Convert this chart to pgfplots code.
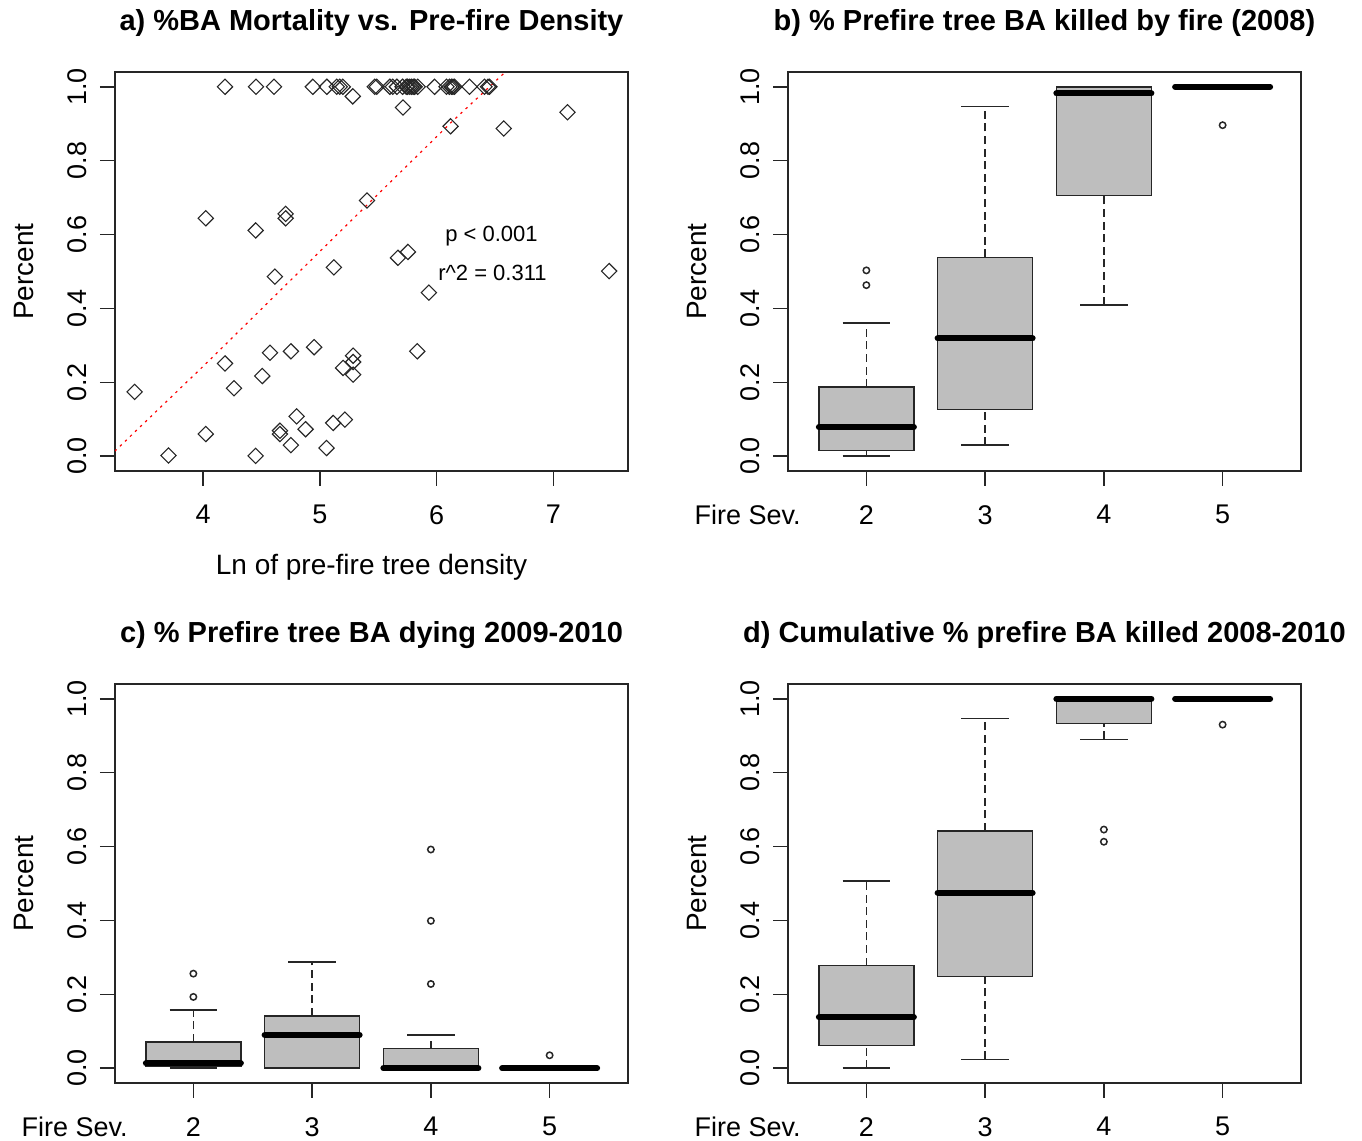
\documentclass[border=0pt]{standalone}
\usepackage{fontspec}
\setmainfont{Liberation Sans}
\usepackage{pgfplots}
\pgfplotsset{compat=1.18}
\usepgfplotslibrary{statistics}
\definecolor{boxgray}{RGB}{190,190,190}
\newcommand\tfont{\fontsize{13.5}{16}\selectfont}
\newcommand\lfont{\fontsize{14}{17}\selectfont}
\newcommand\hfont{\fontsize{14.5}{17}\selectfont\bfseries}
\newcommand\afont{\fontsize{11}{13}\selectfont}

\pgfplotsset{
  boxplot/draw/lower whisker/.code={%
    \draw[/pgfplots/boxplot/every whisker/.try, dash pattern=on 4pt off 2.3pt]
      (boxplot cs:\pgfplotsboxplotvalue{lower whisker}) -- (boxplot cs:\pgfplotsboxplotvalue{lower quartile});
    \draw[/pgfplots/boxplot/every whisker/.try, solid]
      (boxplot whisker cs:\pgfplotsboxplotvalue{lower whisker},0) -- (boxplot whisker cs:\pgfplotsboxplotvalue{lower whisker},1);
  },
  boxplot/draw/upper whisker/.code={%
    \draw[/pgfplots/boxplot/every whisker/.try, dash pattern=on 4pt off 2.3pt]
      (boxplot cs:\pgfplotsboxplotvalue{upper quartile}) -- (boxplot cs:\pgfplotsboxplotvalue{upper whisker});
    \draw[/pgfplots/boxplot/every whisker/.try, solid]
      (boxplot whisker cs:\pgfplotsboxplotvalue{upper whisker},0) -- (boxplot whisker cs:\pgfplotsboxplotvalue{upper whisker},1);
  },
  rbase/.style={
    scale only axis, width=256.5pt, height=199.5pt,
    anchor=south west,
    axis line style={line width=0.8pt, black!85},
    tick align=outside, tick pos=left,
    major tick length=7.5pt,
    tick style={line width=0.8pt, black!85},
    ymin=-0.04, ymax=1.04,
    ytick={0,0.2,0.4,0.6,0.8,1},
    yticklabels={0.0,0.2,0.4,0.6,0.8,1.0},
    yticklabel style={rotate=90, anchor=south, inner sep=0pt, font=\tfont},
    yticklabel shift=6.5pt,
    xticklabel style={anchor=north, inner sep=0pt, font=\tfont},
    xticklabel shift=9.5pt,
    ylabel={Percent},
    ylabel style={at={(axis description cs:-0.1774,0.5)}, anchor=center, font=\lfont},
    title style={at={(axis description cs:0.5,1.092)}, anchor=center, font=\hfont},
  },
  rbox/.style={rbase, xmin=0.34, xmax=4.66, xtick={1,2,3,4}, xticklabels={2,3,4,5}, clip=false},
  bp/.style={black, line width=0.8pt, mark=o, mark size=1.6pt,
    mark options={solid, black!85, line width=0.75pt},
    boxplot/every box/.style={draw=black!85, fill=boxgray, line width=0.8pt},
    boxplot/every whisker/.style={black!85, line width=0.8pt},
    boxplot/every median/.style={black, line width=3pt, line cap=round},
    boxplot prepared={draw direction=y, box extend=0.8, whisker extend=0.4, #1}},
}

\begin{document}
\begin{tikzpicture}
\useasboundingbox (0,0) rectangle (681pt,570.5pt);

% ---------------- a) scatter
\begin{axis}[rbase, at={(57.5pt,335pt)},
  xmin=3.245, xmax=7.64, xtick={4,5,6,7}, xticklabels={4,5,6,7},
  xlabel={Ln of pre-fire tree density},
  xlabel style={at={(axis description cs:0.5,-0.2406)}, anchor=center, font=\lfont},
  title={a) \%BA Mortality vs. Pre-fire Density}]
\addplot[red, line width=0.6pt, dash pattern=on 1.2pt off 2.3pt]
  coordinates {(3.20,0.001) (3.248,0.015) (4.045,0.257) (5.43,0.688) (6.12,0.902) (6.596,1.042) (6.7,1.074)};
\addplot[only marks, mark=square, mark size=2.7pt, mark options={rotate=45, black!85, line width=0.55pt}]
  coordinates {
  (4.188,1) (4.453,1) (4.607,1) (4.940,1) (5.060,1) (5.145,1) (5.171,1) (5.197,1)
  (5.282,0.974) (5.470,1) (5.487,1) (5.600,1) (5.624,1) (5.660,1) (5.709,1) (5.740,1)
  (5.752,1) (5.770,1) (5.786,1) (5.800,1) (5.812,1) (5.838,1) (5.983,1) (6.085,1)
  (6.110,1) (6.128,1) (6.140,1) (6.154,1) (6.282,1) (6.410,1) (6.440,1) (6.453,1)
  (4.023,0.644) (4.450,0.611) (4.707,0.656) (4.707,0.644) (5.404,0.692) (5.120,0.511)
  (4.615,0.486) (5.712,0.944) (7.122,0.931) (6.120,0.893) (6.575,0.887) (5.669,0.537)
  (5.755,0.553) (7.479,0.501) (3.413,0.174) (3.703,0.002) (4.023,0.060) (4.450,0.001)
  (4.188,0.251) (4.265,0.184) (4.507,0.217) (4.573,0.280) (4.752,0.284) (4.951,0.295)
  (4.801,0.108) (4.878,0.073) (4.658,0.069) (4.658,0.060) (4.752,0.030) (5.057,0.022)
  (5.114,0.090) (5.214,0.099) (5.199,0.239) (5.285,0.272) (5.285,0.255) (5.285,0.221)
  (5.934,0.443) (5.835,0.284)
  };
\node[font=\afont] at (axis cs:6.47,0.597) {p < 0.001};
\node[font=\afont] at (axis cs:6.479,0.497) {r\textasciicircum 2 = 0.311};
\end{axis}

% ---------------- b)
\begin{axis}[rbox, at={(394pt,335pt)},
  title={b) \% Prefire tree BA killed by fire (2008)}]
\addplot[bp={draw position=1, lower whisker=0.0, lower quartile=0.016, median=0.079, upper quartile=0.187, upper whisker=0.361}]
  coordinates {(0,0.503) (0,0.463)};
\addplot[bp={draw position=2, lower whisker=0.030, lower quartile=0.126, median=0.319, upper quartile=0.538, upper whisker=0.947}]
  coordinates {};
\addplot[bp={draw position=3, lower whisker=0.409, lower quartile=0.706, median=0.982, upper quartile=1.0, upper whisker=1.0}]
  coordinates {};
\addplot[bp={draw position=4, lower whisker=1.0, lower quartile=1.0, median=1.0, upper quartile=1.0, upper whisker=1.0}]
  coordinates {(0,0.896)};
\node[anchor=north, inner sep=0pt, font=\tfont] at ([yshift=-17pt]axis cs:0,-0.04) {Fire Sev.};
\end{axis}

% ---------------- c)
\begin{axis}[rbox, at={(57.5pt,29pt)},
  title={c) \% Prefire tree BA dying 2009-2010}]
\addplot[bp={draw position=1, lower whisker=0.0, lower quartile=0.005, median=0.013, upper quartile=0.071, upper whisker=0.157}]
  coordinates {(0,0.256) (0,0.193)};
\addplot[bp={draw position=2, lower whisker=0.0, lower quartile=0.0, median=0.090, upper quartile=0.142, upper whisker=0.287}]
  coordinates {};
\addplot[bp={draw position=3, lower whisker=0.0, lower quartile=0.0, median=0.0, upper quartile=0.053, upper whisker=0.090}]
  coordinates {(0,0.592) (0,0.399) (0,0.228)};
\addplot[bp={draw position=4, lower whisker=0.0, lower quartile=0.0, median=0.0, upper quartile=0.0, upper whisker=0.0}]
  coordinates {(0,0.035)};
\node[anchor=north, inner sep=0pt, font=\tfont] at ([yshift=-17pt]axis cs:0,-0.04) {Fire Sev.};
\end{axis}

% ---------------- d)
\begin{axis}[rbox, at={(394pt,29pt)},
  title={d) Cumulative \% prefire BA killed 2008-2010}]
\addplot[bp={draw position=1, lower whisker=0.0, lower quartile=0.061, median=0.138, upper quartile=0.278, upper whisker=0.507}]
  coordinates {};
\addplot[bp={draw position=2, lower whisker=0.024, lower quartile=0.248, median=0.475, upper quartile=0.642, upper whisker=0.947}]
  coordinates {};
\addplot[bp={draw position=3, lower whisker=0.890, lower quartile=0.933, median=1.0, upper quartile=1.0, upper whisker=1.0}]
  coordinates {(0,0.646) (0,0.613)};
\addplot[bp={draw position=4, lower whisker=1.0, lower quartile=1.0, median=1.0, upper quartile=1.0, upper whisker=1.0}]
  coordinates {(0,0.930)};
\node[anchor=north, inner sep=0pt, font=\tfont] at ([yshift=-17pt]axis cs:0,-0.04) {Fire Sev.};
\end{axis}
\end{tikzpicture}
\end{document}
